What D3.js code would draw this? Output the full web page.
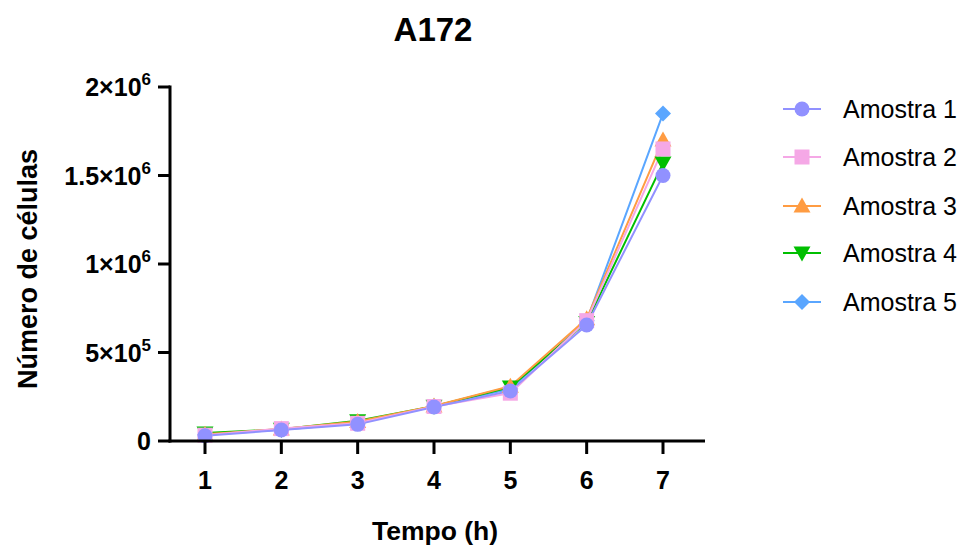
<!DOCTYPE html>
<html><head><meta charset="utf-8">
<script src="https://cdn.jsdelivr.net/npm/d3@7"></script>
<style>body{margin:0;background:#fff}svg{display:block;font-family:"Liberation Sans",Arial,sans-serif}</style>
</head><body><svg id="c" width="965" height="546"></svg>
<script>
const timepoints = [1,2,3,4,5,6,7];
const seriesNames = ["Amostra 1","Amostra 2","Amostra 3","Amostra 4","Amostra 5"];
const amostra1 = [30000, 62000, 94000, 192000, 283000, 655000, 1500000];
const amostra2 = [33000, 70000, 100000, 195000, 270000, 680000, 1650000];
const amostra3 = [38000, 68000, 110000, 198000, 310000, 690000, 1700000];
const amostra4 = [45000, 66000, 115000, 196000, 305000, 670000, 1570000];
const amostra5 = [35000, 64000, 100000, 197000, 295000, 680000, 1850000];
const yTickValues = [0, 500000, 1000000, 1500000, 2000000];
const yTickLabels = [["0",""],["5×10","5"],["1×10","6"],["1.5×10","6"],["2×10","6"]];

const colors = ["#9191ff","#f5a8e6","#ff9c42","#00bf00","#5aa6ff"];
const symbols = ["circle","square","triangle","triangleDown","diamond"];
const values = [amostra1, amostra2, amostra3, amostra4, amostra5];

const svg = d3.select("#c");
const x = d3.scaleLinear().domain([1,7]).range([205,663]);
const y = d3.scaleLinear().domain([0,2000000]).range([441,87]);

function drawMarker(g, type, cx, cy, color) {
  if (type === "circle") g.append("circle").attr("cx",cx).attr("cy",cy).attr("r",7.5).attr("fill",color);
  else if (type === "square") g.append("rect").attr("x",cx-7.5).attr("y",cy-7.5).attr("width",15).attr("height",15).attr("fill",color);
  else if (type === "triangle") g.append("path").attr("d",`M${cx},${cy-8.5}L${cx+8.5},${cy+6.5}L${cx-8.5},${cy+6.5}Z`).attr("fill",color);
  else if (type === "triangleDown") g.append("path").attr("d",`M${cx},${cy+8.5}L${cx+8.5},${cy-6.5}L${cx-8.5},${cy-6.5}Z`).attr("fill",color);
  else if (type === "diamond") g.append("path").attr("d",`M${cx},${cy-8}L${cx+8},${cy}L${cx},${cy+8}L${cx-8},${cy}Z`).attr("fill",color);
}

const line = d3.line().x((d,i)=>x(timepoints[i])).y(d=>y(d));
for (let s = 4; s >= 0; s--) {
  svg.append("path").attr("d", line(values[s])).attr("fill","none").attr("stroke",colors[s]).attr("stroke-width",2);
}
for (let s = 4; s >= 0; s--) {
  const g = svg.append("g");
  values[s].forEach((v,i)=>drawMarker(g, symbols[s], x(timepoints[i]), y(v), colors[s]));
}

const yAxis = svg.append("g");
yAxis.append("line").attr("x1",170).attr("x2",170).attr("y1",y(2000000)-1.5).attr("y2",442.5).attr("stroke","#000").attr("stroke-width",3);
yTickValues.forEach((v,i)=>{
  yAxis.append("line").attr("x1",158).attr("x2",170).attr("y1",y(v)).attr("y2",y(v)).attr("stroke","#000").attr("stroke-width",3);
  const t = yAxis.append("text").attr("x",151).attr("y",y(v)+9).attr("text-anchor","end").attr("font-weight","bold").attr("font-size",25).attr("fill","#000");
  t.append("tspan").text(yTickLabels[i][0]);
  if (yTickLabels[i][1]) t.append("tspan").attr("font-size",17).attr("dy",-11).text(yTickLabels[i][1]);
});
const xAxis = svg.append("g");
xAxis.append("line").attr("x1",168.5).attr("x2",705).attr("y1",441).attr("y2",441).attr("stroke","#000").attr("stroke-width",3);
timepoints.forEach(t=>{
  xAxis.append("line").attr("x1",x(t)).attr("x2",x(t)).attr("y1",441).attr("y2",454).attr("stroke","#000").attr("stroke-width",3);
  xAxis.append("text").attr("x",x(t)).attr("y",489).attr("text-anchor","middle").attr("font-weight","bold").attr("font-size",25).attr("fill","#000").text(t);
});

svg.append("text").attr("x",433).attr("y",41).attr("text-anchor","middle").attr("font-weight","bold").attr("font-size",33).text("A172");
svg.append("text").attr("x",435).attr("y",540).attr("text-anchor","middle").attr("font-weight","bold").attr("font-size",26.5).text("Tempo (h)");
svg.append("text").attr("transform","translate(37,269) rotate(-90)").attr("text-anchor","middle").attr("font-weight","bold").attr("font-size",27).text("Número de células");

const legY = [109,157,206,253,302];
seriesNames.forEach((n,i)=>{
  const g = svg.append("g");
  g.append("line").attr("x1",783).attr("x2",821).attr("y1",legY[i]).attr("y2",legY[i]).attr("stroke",colors[i]).attr("stroke-width",2);
  drawMarker(g, symbols[i], 802, legY[i], colors[i]);
  g.append("text").attr("x",843).attr("y",legY[i]+9).attr("font-size",25).attr("fill","#000").text(n);
});
</script></body></html>
